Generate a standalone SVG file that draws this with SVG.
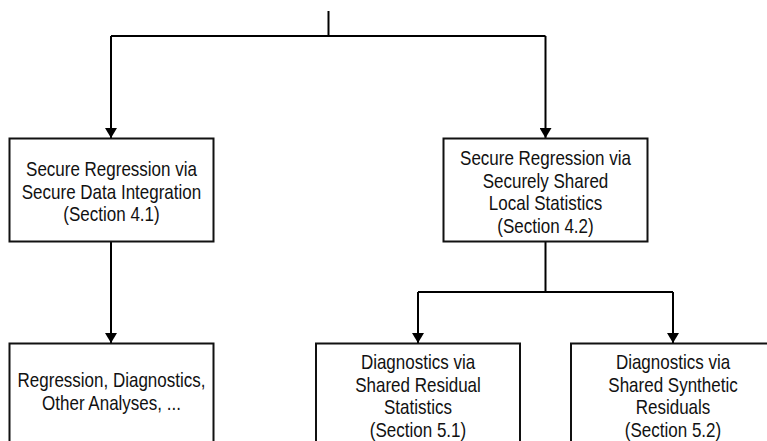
<svg xmlns="http://www.w3.org/2000/svg" width="767" height="441" viewBox="0 0 767 441">
<style>
.box{fill:#fff;stroke:#111;stroke-width:2}
.ln{fill:none;stroke:#000;stroke-width:2}
.t{font-family:"Liberation Sans",Arial,sans-serif;font-size:20px;fill:#111;text-anchor:middle}
</style>
<defs>
<marker id="ah" viewBox="0 0 10 12" refX="10" refY="6" markerWidth="10" markerHeight="12" markerUnits="userSpaceOnUse" orient="auto">
<path d="M0,0 L10,6 L0,12 z" fill="#000"/>
</marker>
</defs>
<rect width="767" height="441" fill="#fff"/>
<g id="connectors">
<path class="ln" d="M328.5,11 V36"/>
<path class="ln" d="M111,36 H545.5"/>
<path class="ln" d="M111,36 V138" marker-end="url(#ah)"/>
<path class="ln" d="M545.5,36 V138" marker-end="url(#ah)"/>
<path class="ln" d="M111,241.5 V343" marker-end="url(#ah)"/>
<path class="ln" d="M545.5,241.5 V292"/>
<path class="ln" d="M418,292 H673"/>
<path class="ln" d="M418,292 V343" marker-end="url(#ah)"/>
<path class="ln" d="M673,292 V343" marker-end="url(#ah)"/>
</g>
<g id="n1">
<rect class="box" x="9.5" y="138.5" width="204" height="103"/>
<g transform="translate(111.5,0) scale(0.85,1)">
<text class="t" x="0" y="176.5">Secure Regression via</text>
<text class="t" x="0" y="199">Secure Data Integration</text>
<text class="t" x="0" y="221.5">(Section 4.1)</text>
</g>
</g>
<g id="n2">
<rect class="box" x="443.5" y="138.5" width="204" height="103"/>
<g transform="translate(545.5,0) scale(0.85,1)">
<text class="t" x="0" y="165.3">Secure Regression via</text>
<text class="t" x="0" y="187.8">Securely Shared</text>
<text class="t" x="0" y="210.3">Local Statistics</text>
<text class="t" x="0" y="232.8">(Section 4.2)</text>
</g>
</g>
<g id="n3">
<rect class="box" x="9.5" y="343.5" width="204" height="110"/>
<g transform="translate(111.5,0) scale(0.85,1)">
<text class="t" x="0" y="387.5">Regression, Diagnostics,</text>
<text class="t" x="0" y="410">Other Analyses, ...</text>
</g>
</g>
<g id="n4">
<rect class="box" x="316" y="343.5" width="204" height="110"/>
<g transform="translate(418,0) scale(0.85,1)">
<text class="t" x="0" y="369.5">Diagnostics via</text>
<text class="t" x="0" y="392">Shared Residual</text>
<text class="t" x="0" y="414.5">Statistics</text>
<text class="t" x="0" y="437">(Section 5.1)</text>
</g>
</g>
<g id="n5">
<rect class="box" x="571" y="343.5" width="204" height="110"/>
<g transform="translate(673,0) scale(0.85,1)">
<text class="t" x="0" y="369.5">Diagnostics via</text>
<text class="t" x="0" y="392">Shared Synthetic</text>
<text class="t" x="0" y="414.5">Residuals</text>
<text class="t" x="0" y="437">(Section 5.2)</text>
</g>
</g>
</svg>
